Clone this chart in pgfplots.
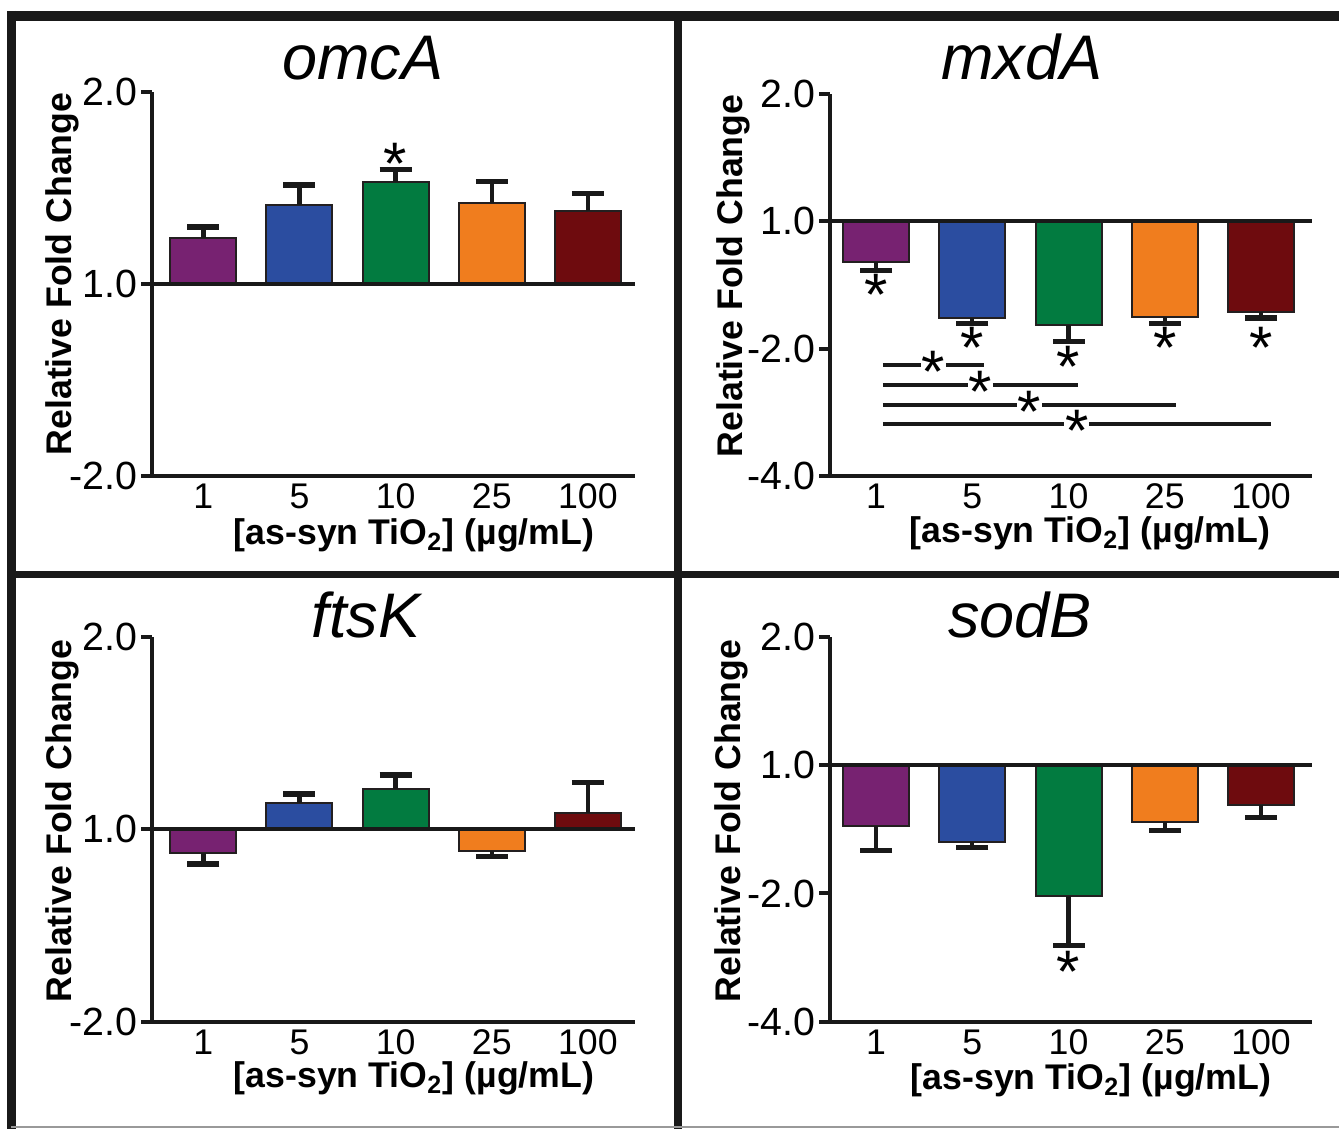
\documentclass[border=0pt]{standalone}
\usepackage{fontspec}
\setmainfont{Liberation Sans}
\usepackage{pgfplots}
\pgfplotsset{compat=1.18}
\definecolor{cP}{RGB}{119,34,113}
\definecolor{cB}{RGB}{43,77,160}
\definecolor{cG}{RGB}{2,123,64}
\definecolor{cO}{RGB}{240,125,30}
\definecolor{cR}{RGB}{110,11,14}
\definecolor{outl}{RGB}{35,31,32}
\newcommand\starfont{\fontsize{18}{18}\selectfont}
\newcommand\xlab{[as-syn TiO\textsubscript{2}] (µg/mL)}
\pgfplotsset{
  panel/.style={
    scale only axis, clip=false,
    axis lines=left,
    axis line style={-, line width=1.2pt, black!90},
    xtick={0,1,2,3,4}, xticklabels={1,5,10,25,100},
    x tick style={draw=none},
    y tick style={line width=1.2pt, black!90},
    tick align=outside, major tick length=3.3pt,
    xticklabel style={font=\fontsize{10.7}{12}\selectfont, inner sep=0pt, yshift=1.1pt},
    yticklabel style={font=\fontsize{11.8}{13}\selectfont, inner sep=1pt},
  },
  mybar/.style={ybar, bar width=19.8pt, bar shift=0pt, draw=outl, line width=0.6pt, fill=#1,
    error bars/y explicit,
    error bars/error mark=|,
    error bars/error bar style={line width=1.3pt, black!90},
    error bars/error mark options={line width=1.6pt, mark size=4.8pt, black!90}},
  up/.style={error bars/y dir=plus},
  dn/.style={error bars/y dir=minus},
}
\tikzset{
  star/.style={font=\starfont, anchor=base, inner sep=0.5pt, yshift=-8.3pt},
  sigl/.style={line width=1.15pt, black!90},
}
\newcommand\baseline{\draw[line width=1.2pt, black!90] (axis cs:\pgfkeysvalueof{/pgfplots/xmin},0) -- (axis cs:\pgfkeysvalueof{/pgfplots/xmax},0);}
\begin{document}
\begin{tikzpicture}
\path[use as bounding box] (0,0) rectangle (401.7pt,-338.7pt);

% ---------- omcA ----------
\begin{axis}[panel, at={(45.6pt,-142.8pt)}, anchor=south west,
  width=144.9pt, height=115.2pt, xmin=-0.534, xmax=4.49, ymin=-1, ymax=1,
  ytick={-1,0,1}, yticklabels={-2.0,1.0,2.0}]
\addplot[mybar=cP, up] coordinates {(0,0.240) +- (0,0.056)};
\addplot[mybar=cB, up] coordinates {(1,0.412) +- (0,0.103)};
\addplot[mybar=cG, up] coordinates {(2,0.530) +- (0,0.065)};
\addplot[mybar=cO, up] coordinates {(3,0.4225) +- (0,0.113)};
\addplot[mybar=cR, up] coordinates {(4,0.378) +- (0,0.092)};
\baseline
\node[star] at (axis cs:2,0.661) {*};
\end{axis}

% ---------- mxdA ----------
\begin{axis}[panel, at={(249pt,-142.8pt)}, anchor=south west,
  width=144.6pt, height=114.6pt, xmin=-0.478, xmax=4.53, ymin=-2, ymax=1,
  ytick={-2,-1,0,1}, yticklabels={-4.0,-2.0,1.0,2.0}]
\addplot[mybar=cP, dn] coordinates {(0,-0.320) +- (0,0.067)};
\addplot[mybar=cB, dn] coordinates {(1,-0.758) +- (0,0.047)};
\addplot[mybar=cG, dn] coordinates {(2,-0.816) +- (0,0.130)};
\addplot[mybar=cO, dn] coordinates {(3,-0.753) +- (0,0.047)};
\addplot[mybar=cR, dn] coordinates {(4,-0.710) +- (0,0.048)};
\baseline
\node[star] at (axis cs:0,-0.52) {*};
\node[star] at (axis cs:1,-0.935) {*};
\node[star] at (axis cs:2,-1.09) {*};
\node[star] at (axis cs:3,-0.935) {*};
\node[star] at (axis cs:4,-0.935) {*};
% significance brackets (1 vs 5, 10, 25, 100)
\draw[sigl] (axis cs:0.07,-1.126) -- (axis cs:0.465,-1.126);
\draw[sigl] (axis cs:0.725,-1.126) -- (axis cs:1.12,-1.126);
\node[star] at (axis cs:0.595,-1.126) {*};
\draw[sigl] (axis cs:0.07,-1.283) -- (axis cs:0.955,-1.283);
\draw[sigl] (axis cs:1.215,-1.283) -- (axis cs:2.10,-1.283);
\node[star] at (axis cs:1.085,-1.283) {*};
\draw[sigl] (axis cs:0.07,-1.440) -- (axis cs:1.465,-1.440);
\draw[sigl] (axis cs:1.725,-1.440) -- (axis cs:3.12,-1.440);
\node[star] at (axis cs:1.595,-1.440) {*};
\draw[sigl] (axis cs:0.07,-1.590) -- (axis cs:1.955,-1.590);
\draw[sigl] (axis cs:2.215,-1.590) -- (axis cs:4.10,-1.590);
\node[star] at (axis cs:2.085,-1.590) {*};
\end{axis}

% ---------- ftsK ----------
\begin{axis}[panel, at={(45.6pt,-306.51pt)}, anchor=south west,
  width=144.9pt, height=115.41pt, xmin=-0.534, xmax=4.49, ymin=-1, ymax=1,
  ytick={-1,0,1}, yticklabels={-2.0,1.0,2.0}]
\addplot[mybar=cP, dn] coordinates {(0,-0.125) +- (0,0.055)};
\addplot[mybar=cB, up] coordinates {(1,0.139) +- (0,0.044)};
\addplot[mybar=cG, up] coordinates {(2,0.212) +- (0,0.071)};
\addplot[mybar=cO, dn] coordinates {(3,-0.112) +- (0,0.030)};
\addplot[mybar=cR, up] coordinates {(4,0.085) +- (0,0.158)};
\baseline
\end{axis}

% ---------- sodB ----------
\begin{axis}[panel, at={(249pt,-306.51pt)}, anchor=south west,
  width=144.6pt, height=115.41pt, xmin=-0.478, xmax=4.53, ymin=-2, ymax=1,
  ytick={-2,-1,0,1}, yticklabels={-4.0,-2.0,1.0,2.0}]
\addplot[mybar=cP, dn] coordinates {(0,-0.471) +- (0,0.195)};
\addplot[mybar=cB, dn] coordinates {(1,-0.598) +- (0,0.042)};
\addplot[mybar=cG, dn] coordinates {(2,-1.018) +- (0,0.388)};
\addplot[mybar=cO, dn] coordinates {(3,-0.440) +- (0,0.068)};
\addplot[mybar=cR, dn] coordinates {(4,-0.3125) +- (0,0.097)};
\baseline
\node[star] at (axis cs:2,-1.557) {*};
\end{axis}

% ---------- titles and labels ----------
\begin{scope}[font=\fontsize{18.9}{20}\selectfont\itshape]
\node[anchor=base, inner sep=0pt] at (108.9pt,-24pt) {omcA};
\node[anchor=base, inner sep=0pt] at (306.6pt,-24pt) {mxdA};
\node[anchor=base, inner sep=0pt] at (109.8pt,-191.4pt) {ftsK};
\node[anchor=base, inner sep=0pt] at (306pt,-191.4pt) {sodB};
\end{scope}
\begin{scope}[font=\fontsize{10.7}{12}\selectfont\bfseries]
\node[anchor=base, rotate=90, inner sep=0pt] at (21.45pt,-82.2pt) {Relative Fold Change};
\node[anchor=base, rotate=90, inner sep=0pt] at (222.6pt,-82.8pt) {Relative Fold Change};
\node[anchor=base, rotate=90, inner sep=0pt] at (21.45pt,-246.3pt) {Relative Fold Change};
\node[anchor=base, rotate=90, inner sep=0pt] at (222pt,-246.3pt) {Relative Fold Change};
\node[anchor=base, inner sep=0pt] at (124.2pt,-163.5pt) {\xlab};
\node[anchor=base, inner sep=0pt] at (327pt,-162.9pt) {\xlab};
\node[anchor=base, inner sep=0pt] at (124.2pt,-326.3pt) {\xlab};
\node[anchor=base, inner sep=0pt] at (327.3pt,-327pt) {\xlab};
\end{scope}

% ---------- panel borders ----------
\draw[line width=3pt, black!90] (2.1pt,-4.8pt) -- (401.7pt,-4.8pt);
\draw[line width=2.7pt, black!90] (3.39pt,-3.3pt) -- (3.39pt,-338.7pt);
\draw[line width=2.3pt, black!90] (203.4pt,-4.8pt) -- (203.4pt,-338.7pt);
\draw[line width=2.3pt, black!90] (3.39pt,-172.35pt) -- (401.7pt,-172.35pt);
\draw[line width=0.6pt, black!40] (3.39pt,-338.1pt) -- (401.7pt,-338.1pt);
\end{tikzpicture}
\end{document}
